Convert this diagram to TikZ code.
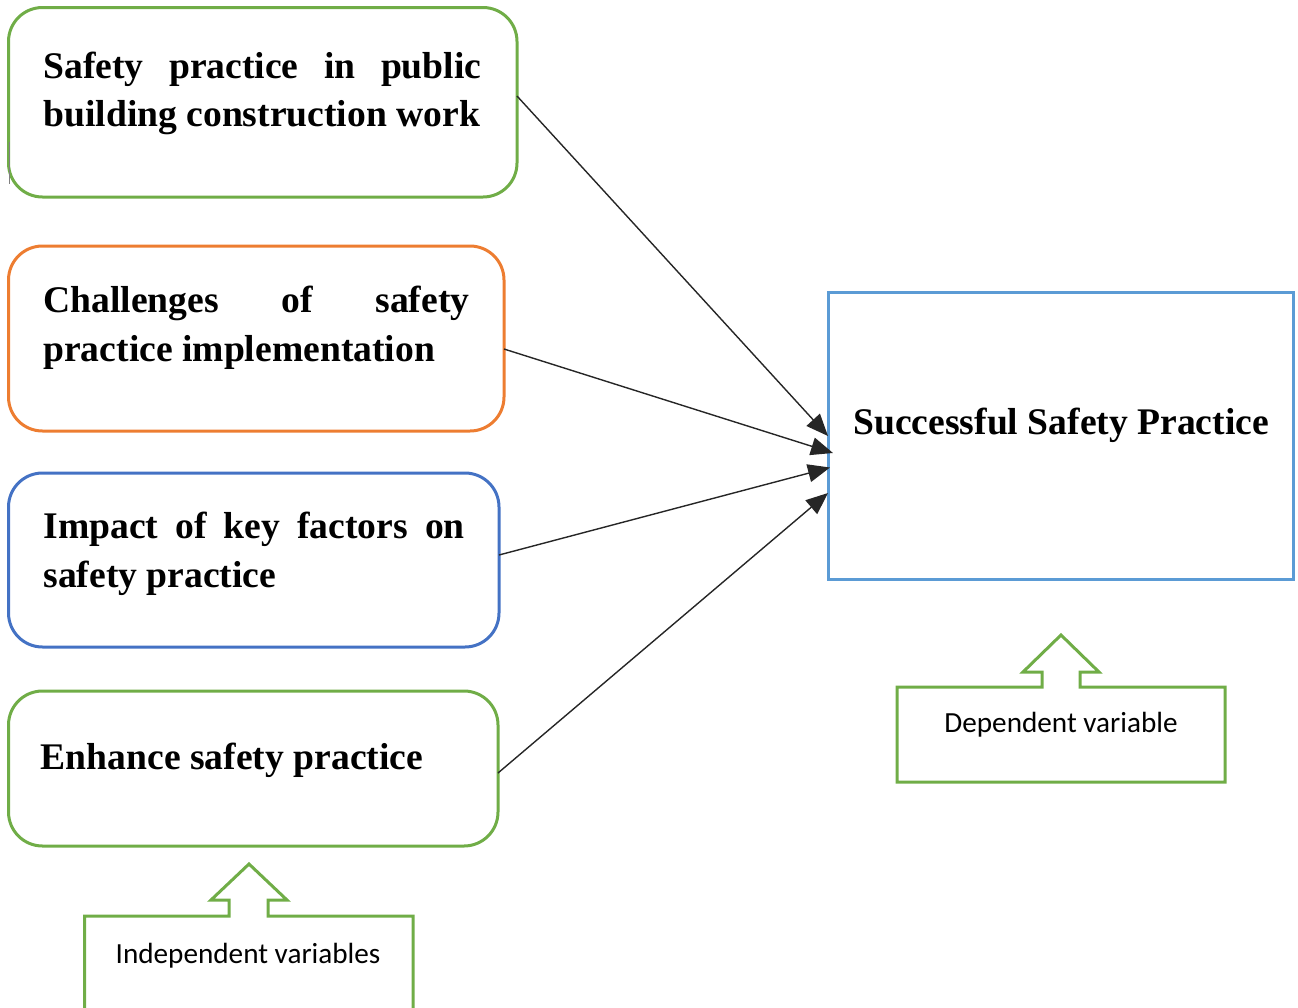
\documentclass[tikz,border=0pt]{standalone}
\usepackage{fontspec}
\setmainfont{Liberation Serif}
\newfontfamily\labelfont{Carlito}
\usetikzlibrary{arrows.meta,fit}
\definecolor{boxgreen}{HTML}{70AD47}
\definecolor{boxorange}{HTML}{ED7D31}
\definecolor{boxblue}{HTML}{4472C4}
\definecolor{resblue}{HTML}{5B9BD5}

\begin{document}
\begin{tikzpicture}[x=0.5pt,y=-0.5pt,
  factor/.style={draw=#1, line width=1.5pt, rounded corners=17pt, inner sep=0pt, outer sep=0pt},
  outcome/.style={draw=resblue, line width=1.5pt, inner sep=0pt, outer sep=0pt},
  vartext/.style={font=\bfseries\fontsize{18.8}{24.2}\selectfont, inner sep=0pt, anchor=base west, align=left},
  link/.style={draw=black!85, line width=0.7pt, -{Triangle[length=11pt,width=9pt]}},
  callout/.style={draw=boxgreen, line width=1.5pt},
  calltext/.style={font=\labelfont\fontsize{14.6}{17}\selectfont, inner sep=0pt, anchor=base}]

\useasboundingbox (0,0) rectangle (1298,1008);
\clip (0,0) rectangle (1298,1008);

% independent variable boxes
\node[factor=boxgreen,  fit={(8.5,7.5) (517,197)}]   (f1) {};
\node[factor=boxorange, fit={(8.5,246) (504,431)}]   (f2) {};
\node[factor=boxblue,   fit={(8.5,473) (499,647)}]   (f3) {};
\node[factor=boxgreen,  fit={(8.5,691) (498,846)}]   (f4) {};
\draw[gray, line width=0.6pt] ([xshift=0.4pt]f1.west |- 0,142) -- ([xshift=0.4pt]f1.west |- 0,184);

% two-line labels are anchored at the baseline of their last line
\node[vartext] (t1) at (43,126.7) {\makebox[219pt][s]{Safety practice in public}\\building construction work};
\node[vartext] (t2) at (43,361)   {\makebox[213pt][s]{Challenges of safety}\\practice implementation};
\node[vartext] (t3) at (43,587)   {\makebox[210.75pt][s]{Impact of key factors on}\\safety practice};
\node[vartext] (t4) at (40.5,769.5) {Enhance safety practice};

% dependent variable box
\node[outcome, fit={(828,292) (1293,579)}] (res) {};
\node[vartext] (tr) at (853,434) {Successful Safety Practice};

% links
\draw[link] (f1.east |- 0,96)  -- (res.west |- 0,436);
\draw[link] (f2.east |- 0,349) -- ([xshift=2.5pt]res.west |- 0,453);
\draw[link] (f3.east |- 0,555) -- ([xshift=1pt]res.west |- 0,467.5);
\draw[link] (f4.east |- 0,773) -- (res.west |- 0,493);

% callouts
\draw[callout] (897,687) -- (1042,687) -- (1042,672) -- (1023,672) -- (1061,635)
  -- (1099,672) -- (1080,672) -- (1080,687) -- (1225,687) -- (1225,782) -- (897,782) -- cycle;
\node[calltext] (dv) at (1061,732) {Dependent variable};

\draw[callout] (84.5,1020) -- (84.5,916) -- (229,916) -- (229,900) -- (211,900) -- (249,864)
  -- (287,900) -- (268,900) -- (268,916) -- (413,916) -- (413,1020);
\node[calltext] (iv) at (248,963.8) {Independent variables};
\end{tikzpicture}
\end{document}
